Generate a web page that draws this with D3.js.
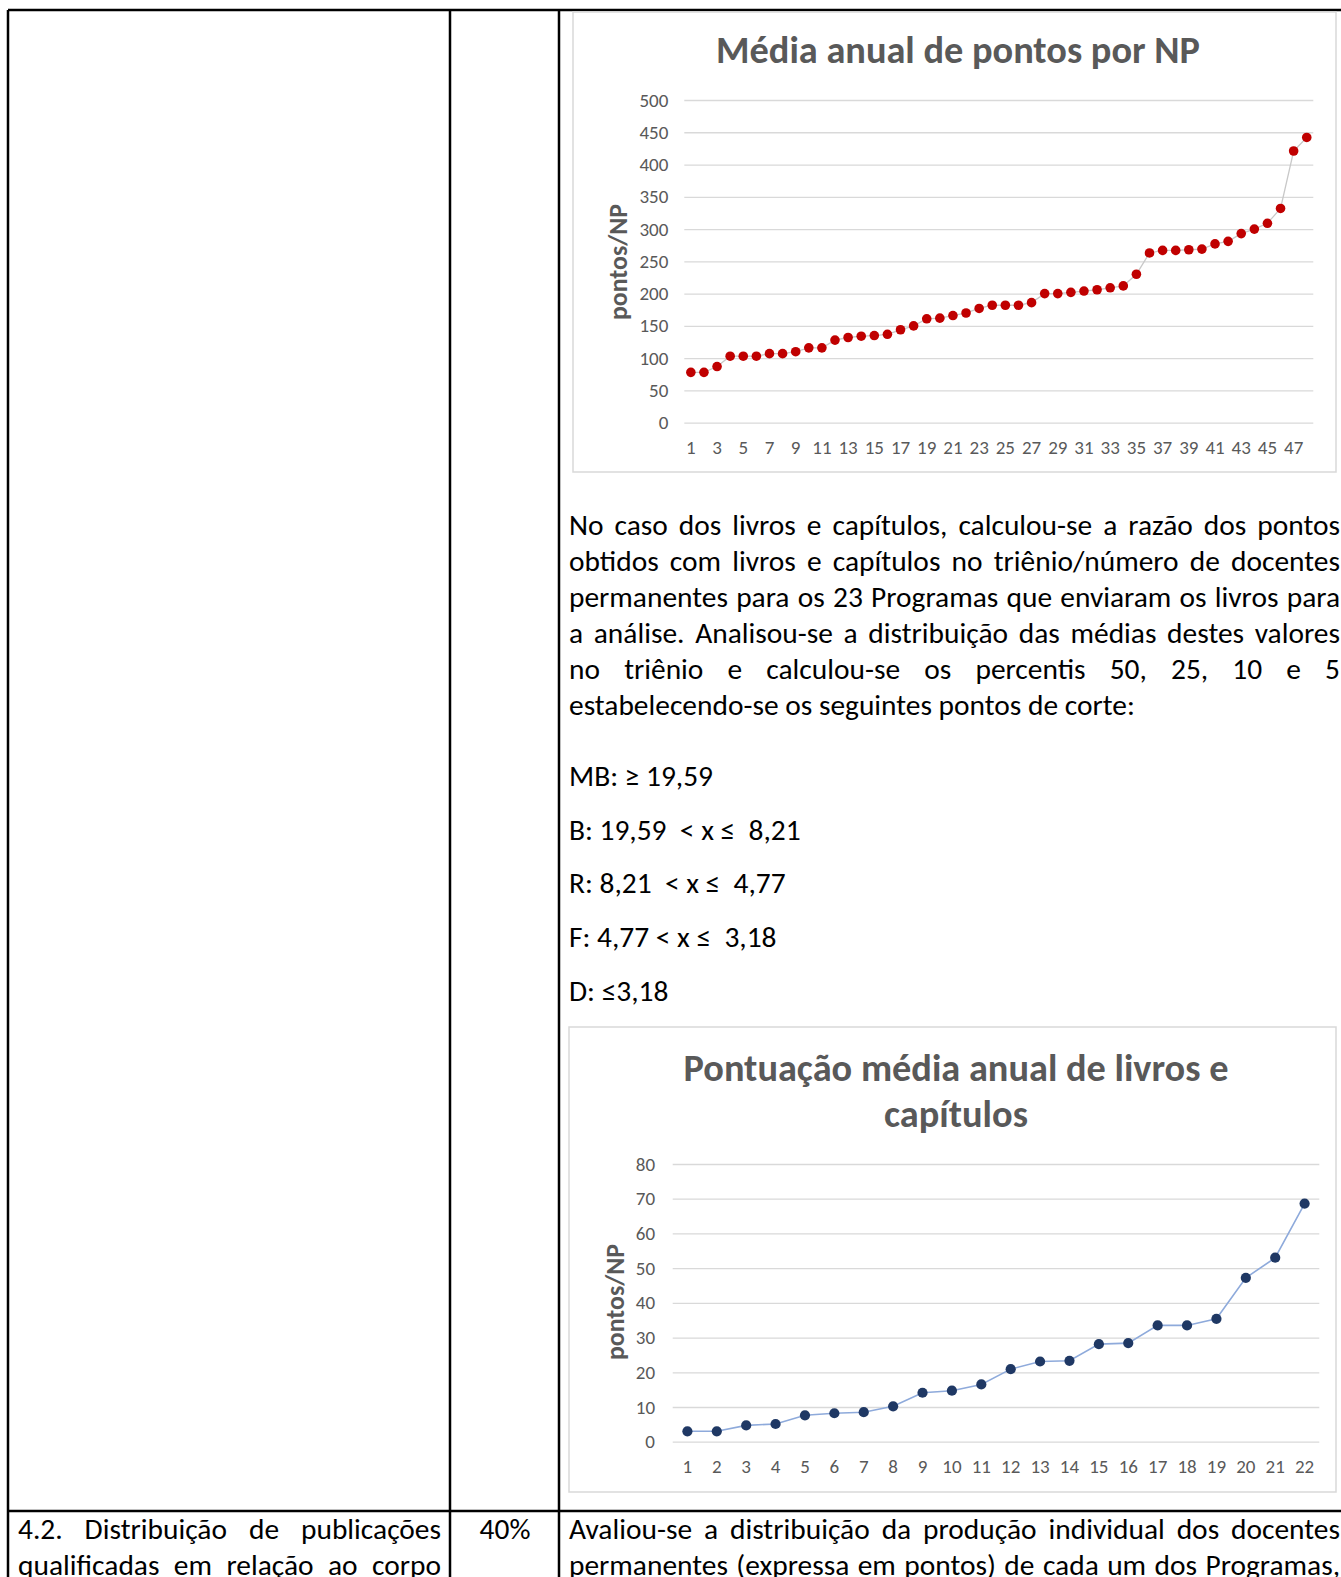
<!DOCTYPE html>
<html>
<head>
<meta charset="utf-8">
<script src="https://cdn.jsdelivr.net/npm/d3@7"></script>
<style>
  html, body { margin: 0; padding: 0; background: #fff; overflow: hidden; }
  svg { display: block; }
</style>
</head>
<body>
<script>
// ---- data -------------------------------------------------------------
const npCategories = [1,2,3,4,5,6,7,8,9,10,11,12,13,14,15,16,17,18,19,20,21,22,23,24,
                      25,26,27,28,29,30,31,32,33,34,35,36,37,38,39,40,41,42,43,44,45,46,47,48];
const npValues = [78,78,87,103,103,103,107,107,110,116,116,128,132,134,135,137,144,150,
                  161,162,166,170,177,182,182,182,186,200,200,202,204,206,209,212,230,263,
                  267,267,268,269,277,281,293,300,309,332,421,442];
const npTicks = [0,50,100,150,200,250,300,350,400,450,500];
const npXLabels = [1,3,5,7,9,11,13,15,17,19,21,23,25,27,29,31,33,35,37,39,41,43,45,47];

const livrosCategories = [1,2,3,4,5,6,7,8,9,10,11,12,13,14,15,16,17,18,19,20,21,22];
const livrosValues = [3.0,3.0,4.7,5.1,7.6,8.2,8.5,10.2,14.1,14.7,16.5,20.9,23.1,23.3,
                      28.1,28.4,33.5,33.5,35.4,47.2,53.0,68.6];
const livrosTicks = [0,10,20,30,40,50,60,70,80];

const npTitle = "Média anual de pontos por NP";
const livrosTitle = ["Pontuação média anual de livros e", "capítulos"];
const yAxisLabel = "pontos/NP";

const paragraphLines = [
  "No caso dos livros e capítulos, calculou-se a razão dos pontos",
  "obtidos com livros e capítulos no triênio/número de docentes",
  "permanentes para os 23 Programas que enviaram os livros para",
  "a análise. Analisou-se a distribuição das médias destes valores",
  "no triênio e calculou-se os percentis 50, 25, 10 e 5",
  "estabelecendo-se os seguintes pontos de corte:"
];
const cutoffLines = [
  "MB: ≥ 19,59",
  "B: 19,59\u00A0 < x ≤\u00A0 8,21",
  "R: 8,21\u00A0 < x ≤\u00A0 4,77",
  "F: 4,77 < x ≤\u00A0 3,18",
  "D: ≤3,18"
];
const criterionLines = ["4.2. Distribuição de publicações", "qualificadas em relação ao corpo"];
const weightText = "40%";
const descriptionLines = [
  "Avaliou-se a distribuição da produção individual dos docentes",
  "permanentes (expressa em pontos) de cada um dos Programas,"
];

// ---- page setup -------------------------------------------------------
const W = 1341, H = 1577;
const FONT = "Carlito, Lato, 'Open Sans', sans-serif";
const GREY = "#595959";

const svg = d3.select("body").append("svg")
  .attr("width", W).attr("height", H)
  .attr("viewBox", `0 0 ${W} ${H}`)
  .style("font-family", FONT);

// measure a string at a given size/weight
function measure(text, size, weight) {
  const t = svg.append("text").attr("font-size", size).attr("font-weight", weight || "normal").text(text);
  const w = t.node().getComputedTextLength();
  t.remove();
  return w;
}
function fitSize(text, weight, target) {
  return 100 * target / measure(text, 100, weight);
}

// a line of text; justified lines spread their words across the full width
function textLine(g, text, x, y, width, size, justify, opts) {
  opts = opts || {};
  const t = g.append("text")
    .attr("y", y)
    .attr("font-size", size)
    .attr("font-weight", opts.weight || "normal")
    .attr("fill", opts.fill || "#000");
  if (!justify) {
    t.attr("x", x).text(text);
    return t;
  }
  const words = text.split(" ");
  const widths = words.map(w => measure(w, size, opts.weight));
  const gap = (width - d3.sum(widths)) / (words.length - 1);
  let cx = x;
  words.forEach((w, i) => {
    t.append("tspan").attr("x", cx).text(w);
    cx += widths[i] + gap;
  });
  return t;
}

// ---- table frame ------------------------------------------------------
const frame = svg.append("g").attr("stroke", "#000").attr("stroke-width", 2.5).attr("fill", "none");
frame.append("line").attr("x1", 8).attr("x2", W + 5).attr("y1", 10).attr("y2", 10);
frame.append("line").attr("x1", 8).attr("x2", 8).attr("y1", 10).attr("y2", H + 5);
frame.append("line").attr("x1", 450).attr("x2", 450).attr("y1", 10).attr("y2", H + 5);
frame.append("line").attr("x1", 559).attr("x2", 559).attr("y1", 10).attr("y2", H + 5);
frame.append("line").attr("x1", 8).attr("x2", W + 5).attr("y1", 1511).attr("y2", 1511);

// ---- body text --------------------------------------------------------
const bodySize = fitSize(paragraphLines[5], "normal", 566);
const body = svg.append("g");
paragraphLines.forEach((line, i) => {
  const last = i === paragraphLines.length - 1;
  textLine(body, line, 569, 535 + i * 36, 771, bodySize, !last);
});
cutoffLines.forEach((line, i) => {
  textLine(body, line, 569, 786 + i * 53.7, 0, bodySize, false);
});
criterionLines.forEach((line, i) => {
  textLine(body, line, 18, 1539 + i * 36, 423, bodySize, true);
});
body.append("text").attr("x", 505).attr("y", 1539).attr("text-anchor", "middle")
  .attr("font-size", bodySize).text(weightText);
descriptionLines.forEach((line, i) => {
  textLine(body, line, 569, 1539 + i * 36, 771, bodySize, true);
});

// ---- chart drawing ----------------------------------------------------
const titleSize = fitSize(npTitle, "bold", 484);
const labelSize = fitSize(yAxisLabel, "bold", 116);
const tickSize = 19;

function drawChart(cfg) {
  const g = svg.append("g");
  // chart area border
  g.append("rect")
    .attr("x", cfg.box[0]).attr("y", cfg.box[1])
    .attr("width", cfg.box[2]).attr("height", cfg.box[3])
    .attr("fill", "#fff").attr("stroke", "#d9d9d9").attr("stroke-width", 1.5);

  // title
  cfg.title.forEach((line, i) => {
    g.append("text")
      .attr("x", cfg.titleX).attr("y", cfg.titleY + i * 46)
      .attr("text-anchor", "middle")
      .attr("font-size", titleSize).attr("font-weight", "bold")
      .attr("fill", GREY).text(line);
  });

  const x = d3.scaleBand().domain(cfg.categories).range(cfg.xRange);
  const y = d3.scaleLinear().domain(cfg.yDomain).range(cfg.yRange);
  const cx = d => x(d) + x.bandwidth() / 2;
  const plotW = cfg.xRange[1] - cfg.xRange[0];

  // value axis with gridlines
  const yAxis = g.append("g")
    .attr("transform", `translate(${cfg.xRange[0]},0)`)
    .call(d3.axisLeft(y).tickValues(cfg.ticks).tickSize(-plotW).tickPadding(cfg.tickPad).tickFormat(d3.format("d")));
  yAxis.select(".domain").remove();
  yAxis.selectAll(".tick line").attr("stroke", "#d9d9d9").attr("stroke-width", 1.3);
  yAxis.selectAll(".tick text").attr("fill", GREY).attr("font-size", tickSize).attr("font-family", FONT);

  // category axis
  const xAxis = g.append("g")
    .attr("transform", `translate(0,${cfg.yRange[0]})`)
    .call(d3.axisBottom(x).tickValues(cfg.xLabels).tickSize(0).tickPadding(17.8));
  xAxis.select(".domain").remove();
  xAxis.selectAll(".tick text").attr("fill", GREY).attr("font-size", tickSize).attr("font-family", FONT);

  // axis title
  g.append("text")
    .attr("transform", `translate(${cfg.labelX},${cfg.labelY}) rotate(-90)`)
    .attr("text-anchor", "middle")
    .attr("font-size", labelSize).attr("font-weight", "bold")
    .attr("fill", GREY).text(yAxisLabel);

  // series
  const pts = cfg.categories.map((c, i) => [cx(c), y(cfg.values[i])]);
  g.append("path")
    .attr("d", d3.line()(pts))
    .attr("fill", "none").attr("stroke", cfg.lineColor).attr("stroke-width", cfg.lineWidth);
  g.append("g").selectAll("circle").data(cfg.categories).join("circle")
    .attr("cx", d => cx(d))
    .attr("cy", (d, i) => y(cfg.values[i]))
    .attr("r", cfg.r)
    .attr("fill", cfg.markerColor);
}

drawChart({
  box: [573, 12, 763, 460],
  title: [npTitle], titleX: 958, titleY: 63,
  categories: npCategories, values: npValues,
  xRange: [684.3, 1313.3], yDomain: [0, 500], yRange: [422.7, 100],
  ticks: npTicks, tickPad: 16, xLabels: npXLabels,
  labelX: 627, labelY: 262,
  lineColor: "#c8c8c8", lineWidth: 1.3, markerColor: "#c00000", r: 4.8
});

drawChart({
  box: [569, 1027, 767, 465],
  title: livrosTitle, titleX: 956, titleY: 1081,
  categories: livrosCategories, values: livrosValues,
  xRange: [672.7, 1319.3], yDomain: [0, 80], yRange: [1441.7, 1164],
  ticks: livrosTicks, tickPad: 17.7, xLabels: livrosCategories,
  labelX: 624, labelY: 1302,
  lineColor: "#8eaadb", lineWidth: 1.6, markerColor: "#1f3864", r: 5.1
});
</script>
</body>
</html>
